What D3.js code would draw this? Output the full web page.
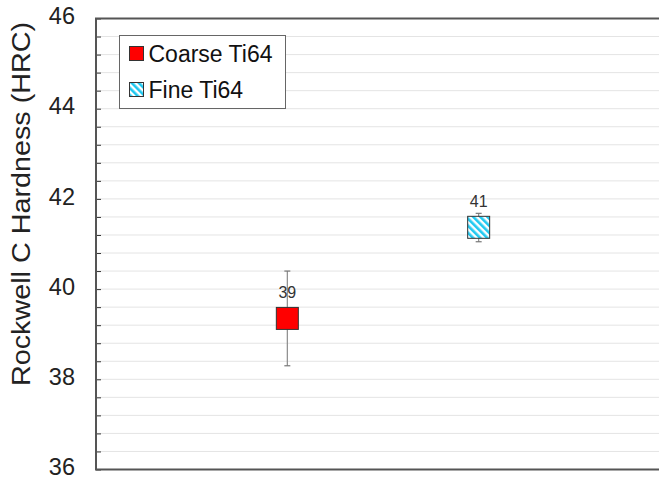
<!DOCTYPE html>
<html>
<head>
<meta charset="utf-8">
<script src="https://cdn.jsdelivr.net/npm/d3@7"></script>
<style>
  html, body { margin: 0; padding: 0; background: #fff; }
  svg { display: block; font-family: "Liberation Sans", Arial, sans-serif; }
</style>
</head>
<body>
<svg id="chart" width="659" height="480"></svg>
<script>
// Hardness data: one point per material with min/max spread
const categories = ["Coarse Ti64", "Fine Ti64"];
const hardness = [39.35, 41.37];
const errLow = [38.30, 41.05];
const errHigh = [40.40, 41.68];
const yTicks = [36, 38, 40, 42, 44, 46];

const svg = d3.select("#chart");
const W = 659, H = 480;
const plotLeft = 96, plotTop = 18.5, plotBottom = 469.5;

const y = d3.scaleLinear().domain([36, 46]).range([plotBottom, plotTop]);
const x = d3.scaleLinear().domain([0, 3]).range([plotLeft, 670]);

// Horizontal gridlines every 0.4 units
const gridVals = d3.range(0, 26).map(i => 36 + i * 0.4);
svg.append("g")
  .selectAll("line")
  .data(gridVals.slice(1))
  .join("line")
  .attr("x1", plotLeft).attr("x2", W)
  .attr("y1", d => y(d)).attr("y2", d => y(d))
  .attr("stroke", "#e4e4e4").attr("stroke-width", 1);

// Minor tick marks on the inside of the left axis
const tickAxis = d3.axisRight(y).tickValues(gridVals).tickSize(5).tickFormat("");
const gt = svg.append("g").attr("transform", `translate(${plotLeft},0)`).call(tickAxis);
gt.select(".domain").remove();
gt.selectAll("line").attr("stroke", "#333").attr("stroke-width", 1);

// Major labels
const labelAxis = d3.axisLeft(y).tickValues(yTicks).tickSize(0).tickPadding(21).tickFormat(d3.format("d"));
const gl = svg.append("g").attr("transform", `translate(${plotLeft},0)`).call(labelAxis);
gl.select(".domain").remove();
gl.selectAll("text")
  .attr("font-size", 23.5)
  .attr("fill", "#222")
  .attr("font-family", "Liberation Sans, Arial, sans-serif")
  .attr("dy", "0.22em");

// Frame: left, top and bottom lines
svg.append("line").attr("x1", plotLeft).attr("x2", plotLeft).attr("y1", plotTop).attr("y2", plotBottom)
  .attr("stroke", "#555").attr("stroke-width", 2);
svg.append("line").attr("x1", plotLeft - 1).attr("x2", W).attr("y1", plotTop).attr("y2", plotTop)
  .attr("stroke", "#555").attr("stroke-width", 2);
svg.append("line").attr("x1", plotLeft - 1).attr("x2", W).attr("y1", plotBottom).attr("y2", plotBottom)
  .attr("stroke", "#555").attr("stroke-width", 2);

// Y axis title
svg.append("text")
  .attr("transform", "translate(30, 204) scale(1,1.15) rotate(-90)")
  .attr("text-anchor", "middle")
  .attr("font-size", 25)
  .attr("fill", "#222")
  .text("Rockwell C Hardness (HRC)");

// Diagonal hatch pattern for the fine-grain marker
const defs = svg.append("defs");
const pat = defs.append("pattern")
  .attr("id", "hatch").attr("patternUnits", "userSpaceOnUse")
  .attr("width", 5).attr("height", 5)
  .attr("patternTransform", "rotate(-45)");
pat.append("rect").attr("width", 5).attr("height", 5).attr("fill", "#fff");
pat.append("rect").attr("width", 2.6).attr("height", 5).attr("fill", "#1ec8f0");

const fills = ["#ff0000", "url(#hatch)"];
const msize = 22;

const pts = svg.append("g");
categories.forEach((c, i) => {
  const cx = x(i + 1);
  // error bar
  pts.append("line").attr("x1", cx).attr("x2", cx)
    .attr("y1", y(errLow[i])).attr("y2", y(errHigh[i]))
    .attr("stroke", "#8a8a8a").attr("stroke-width", 1.2);
  [errLow[i], errHigh[i]].forEach(v => {
    pts.append("line").attr("x1", cx - 3).attr("x2", cx + 3)
      .attr("y1", y(v)).attr("y2", y(v))
      .attr("stroke", "#777").attr("stroke-width", 1.2);
  });
  // marker
  pts.append("rect")
    .attr("x", cx - msize / 2).attr("y", y(hardness[i]) - msize / 2)
    .attr("width", msize).attr("height", msize)
    .attr("fill", fills[i]).attr("stroke", "#333").attr("stroke-width", 1);
  // value label
  pts.append("text")
    .attr("x", cx).attr("y", y(hardness[i]) - msize / 2 - 9)
    .attr("text-anchor", "middle")
    .attr("font-size", 16)
    .attr("fill", "#333")
    .text(d3.format(".0f")(hardness[i]));
});

// Legend
const lg = svg.append("g").attr("transform", "translate(119.5,35.5)");
lg.append("rect").attr("width", 166).attr("height", 73)
  .attr("fill", "#fff").attr("stroke", "#666").attr("stroke-width", 1);
categories.forEach((c, i) => {
  const row = lg.append("g").attr("transform", `translate(10,${11 + i * 36})`);
  row.append("rect").attr("width", 14).attr("height", 14)
    .attr("fill", fills[i]).attr("stroke", "#333").attr("stroke-width", 1);
  row.append("text").attr("x", 19).attr("y", 15)
    .attr("font-size", 23).attr("fill", "#111")
    .text(c);
});
</script>
</body>
</html>
